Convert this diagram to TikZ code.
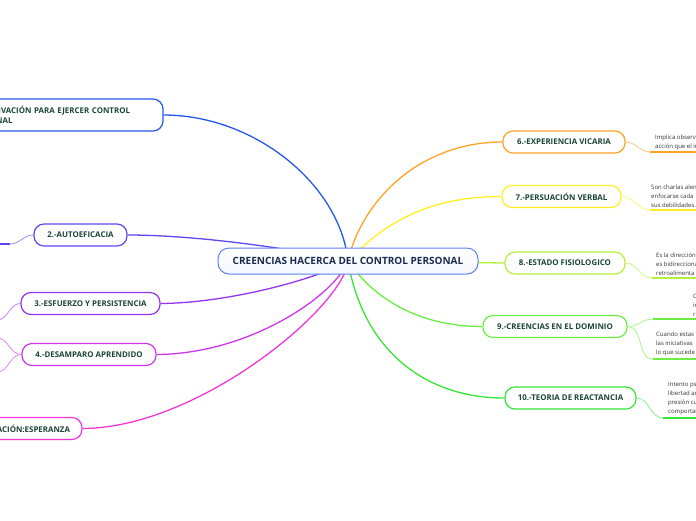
\documentclass[tikz,border=0pt]{standalone}
\usepackage{fontspec}
\setmainfont{Open Sans}
\usetikzlibrary{backgrounds}

\definecolor{txtgreen}{HTML}{1B4536}
\definecolor{txtnavy}{HTML}{1B2B4F}
\definecolor{subgray}{HTML}{333333}
\definecolor{cone}{HTML}{2358EE}
\definecolor{ctwo}{HTML}{5A48F0}
\definecolor{cthree}{HTML}{9433F0}
\definecolor{cfour}{HTML}{CF36EC}
\definecolor{cfive}{HTML}{F236D6}
\definecolor{csix}{HTML}{FFA226}
\definecolor{cseven}{HTML}{FFEE22}
\definecolor{ceight}{HTML}{B2F03A}
\definecolor{cnine}{HTML}{6CEE40}
\definecolor{cten}{HTML}{36E636}

\begin{document}
\begin{tikzpicture}[x=1pt,y=-1pt,
    topic/.style={draw=#1, line width=1.2pt, fill=white, rounded corners=10pt,
        minimum height=22pt, inner xsep=9pt, text=txtgreen,
        font=\fontsize{7.9}{10}\selectfont\bfseries},
    central/.style={draw=cone!75, line width=1pt, rounded corners=11pt,
        top color=white, bottom color=cone!5, minimum height=26pt,
        minimum width=260pt, text=txtnavy,
        font=\fontsize{10}{12}\selectfont\bfseries},
    branch/.style={draw=#1, line width=1.3pt},
    twig/.style={draw=#1!60, line width=0.8pt},
    underline/.style={draw=#1, line width=2pt},
    subtext/.style={anchor=south west, align=left, inner sep=0pt, text=subgray,
        font=\fontsize{6}{9}\selectfont}
]

% Frame of the picture
\useasboundingbox (0,0) rectangle (696,520);
\clip (0,0) rectangle (696,520);

% Central topic
\node[central] (root) at (348,261) {CREENCIAS HACERCA DEL CONTROL PERSONAL};

% --- Left topics ---
\node[topic=cone, minimum width=201pt, minimum height=32pt, text width=183pt,
    align=left] (m1) at (62.5,115) {1.-MOTIVACIÓN PARA EJERCER CONTROL\\PERSONAL};
\node[topic=ctwo, minimum width=93pt] (m2) at (80.5,235) {2.-AUTOEFICACIA};
\node[topic=cthree, minimum width=139pt] (m3) at (90.5,303.5) {3.-ESFUERZO Y PERSISTENCIA};
\node[topic=cfour, minimum width=134pt] (m4) at (89,354.5) {4.-DESAMPARO APRENDIDO};
\node[topic=cfive, minimum width=132pt] (m5) at (16,428.5) {5.-MOTIVACIÓN:ESPERANZA};

% --- Right topics ---
\node[topic=csix, minimum width=122pt] (m6) at (564,142) {6.-EXPERIENCIA VICARIA};
\node[topic=cseven, minimum width=119pt] (m7) at (561.5,196.5) {7.-PERSUACIÓN VERBAL};
\node[topic=ceight, minimum width=120pt] (m8) at (565,263) {8.-ESTADO FISIOLOGICO};
\node[topic=cnine, minimum width=144pt] (m9) at (555,326.5) {9.-CREENCIAS EN EL DOMINIO};
\node[topic=cten, minimum width=131pt] (m10) at (570.5,398) {10.-TEORIA DE REACTANCIA};

% Ends of the sub-topic lines
\coordinate (s2) at (10,244);   \coordinate (e2) at (-5,244);
\coordinate (s3) at (-3,320);
\coordinate (s4a) at (-3,338);  \coordinate (s4b) at (-3,372);
\coordinate (s6) at (650,152);  \coordinate (e6) at (700,152);
\coordinate (s7) at (650,210);  \coordinate (e7) at (700,210);
\coordinate (s8) at (652,278);  \coordinate (e8) at (700,278);
\coordinate (s9a) at (653,319); \coordinate (e9a) at (700,319);
\coordinate (s9b) at (653,359); \coordinate (e9b) at (700,359);
\coordinate (s10) at (663,418); \coordinate (e10) at (700,418);

% Sub-topic texts
\node[subtext] (t6) at (655,150) {Implica observar\\acción que el individuo};
\node[subtext] (t7) at (651,207.5) {Son charlas alentadoras\\enfocarse cada\\sus debilidades.};
\node[subtext] (t8) at (656,275.5) {Es la dirección\\es bidireccional\\retroalimenta};
\node[subtext] (t9a) at (693,316.5) {Cuando\\influir\\resultados};
\node[subtext] (t9b) at (656,356.5) {Cuando estas\\las iniciativas\\lo que sucede};
\node[subtext] (t10) at (668,415.5) {Intento psicológico\\libertad amenazada\\presión cuando\\comportamiento};

\begin{scope}[on background layer]
% Branches from the central topic
\draw[branch=cone] (root.center) .. controls (340,185) and (255,115) .. (m1.east);
\draw[branch=ctwo] (root.center) .. controls (300,250) and (200,235) .. (m2.east);
\draw[branch=cthree] (root.center) .. controls (320,278) and (230,303) .. (m3.east);
\draw[branch=cfour] (root.center) .. controls (335,295) and (250,354) .. (m4.east);
\draw[branch=cfive] (root.center) .. controls (345,305) and (200,428) .. (m5.east);
\draw[branch=csix] (root.center) .. controls (362,200) and (420,142) .. (m6.west);
\draw[branch=cseven] (root.center) .. controls (385,222) and (430,196.5) .. (m7.west);
\draw[branch=ceight] (root.center) -- (m8.west);
\draw[branch=cnine] (root.center) .. controls (375,300) and (420,326.5) .. (m9.west);
\draw[branch=cten] (root.center) .. controls (362,345) and (420,398) .. (m10.west);

% Left sub-topic lines
\draw[twig=ctwo] (m2.west) to[out=180,in=0] (s2);
\draw[underline=ctwo] (s2) -- (e2);
\draw[twig=cthree] (m3.west) to[out=180,in=0] (s3);
\draw[twig=cfour] (m4.west) to[out=180,in=0] (s4a);
\draw[twig=cfour] (m4.west) to[out=180,in=0] (s4b);

% Right sub-topic lines
\draw[twig=csix] (m6.east) to[out=0,in=180] (s6);
\draw[underline=csix] (s6) -- (e6);
\draw[twig=cseven] (m7.east) to[out=0,in=180] (s7);
\draw[underline=cseven] (s7) -- (e7);
\draw[twig=ceight] (m8.east) to[out=0,in=180] (s8);
\draw[underline=ceight] (s8) -- (e8);
\draw[twig=cnine] (m9.east) to[out=0,in=180] (s9a);
\draw[underline=cnine] (s9a) -- (e9a);
\draw[twig=cnine] (m9.east) to[out=0,in=180] (s9b);
\draw[underline=cnine] (s9b) -- (e9b);
\draw[twig=cten] (m10.east) to[out=0,in=180] (s10);
\draw[underline=cten] (s10) -- (e10);
\end{scope}

\end{tikzpicture}
\end{document}
